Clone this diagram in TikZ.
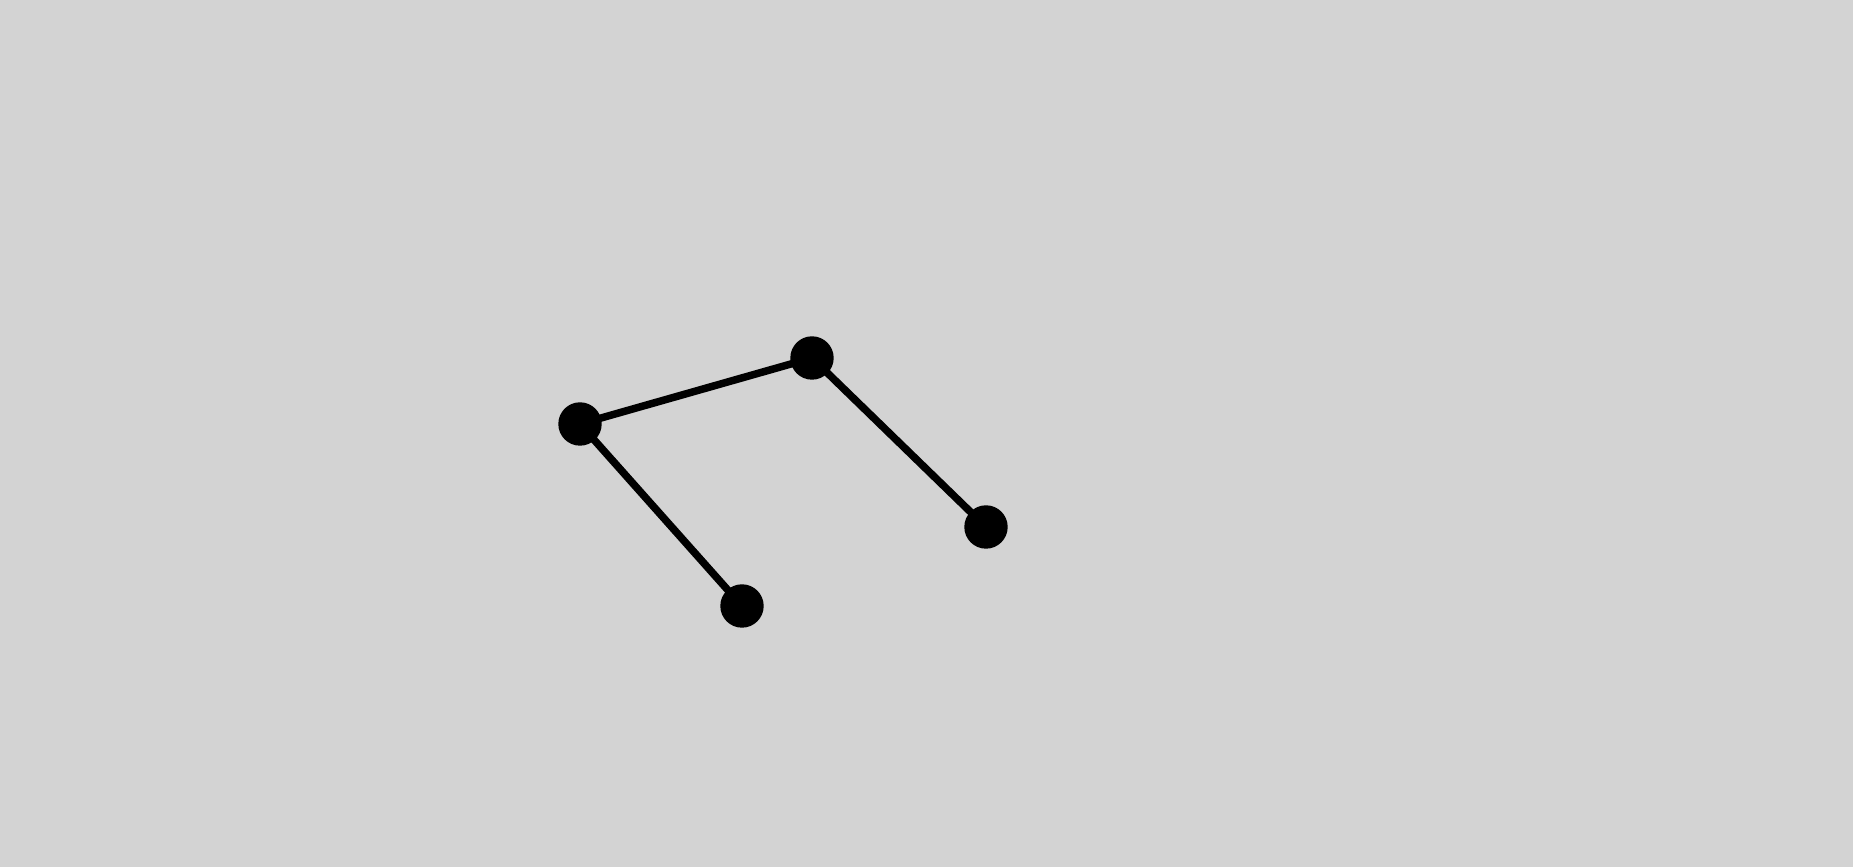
\documentclass[tikz,border=0pt]{standalone}
\usepackage{amsmath}
\usepackage{tikz}
\definecolor{bgray}{HTML}{D3D3D3}
\begin{document}
\begin{tikzpicture}[place/.style={circle,fill=black,inner sep=0pt,minimum size=0.434cm},
                    link/.style={line width=0.075cm,black,shorten <=-1.5pt,shorten >=-1.5pt}]
                      \fill[bgray] (0,0) rectangle (18.53,8.67);
                      \useasboundingbox (0,0) rectangle (18.53,8.67);
                      
                      \node (p1) at (5.80,4.43) [place] {};
                      \node (p2) at (8.12,5.09) [place] {};
                      \node (p3) at (9.86,3.40) [place] {};
                      \node (p4) at (7.42,2.61) [place] {};
                      
                      \draw[link] (p1)--(p2);
                      \draw[link] (p2)--(p3);
                      \draw[link] (p1)--(p4);
                \end{tikzpicture}
\end{document}
